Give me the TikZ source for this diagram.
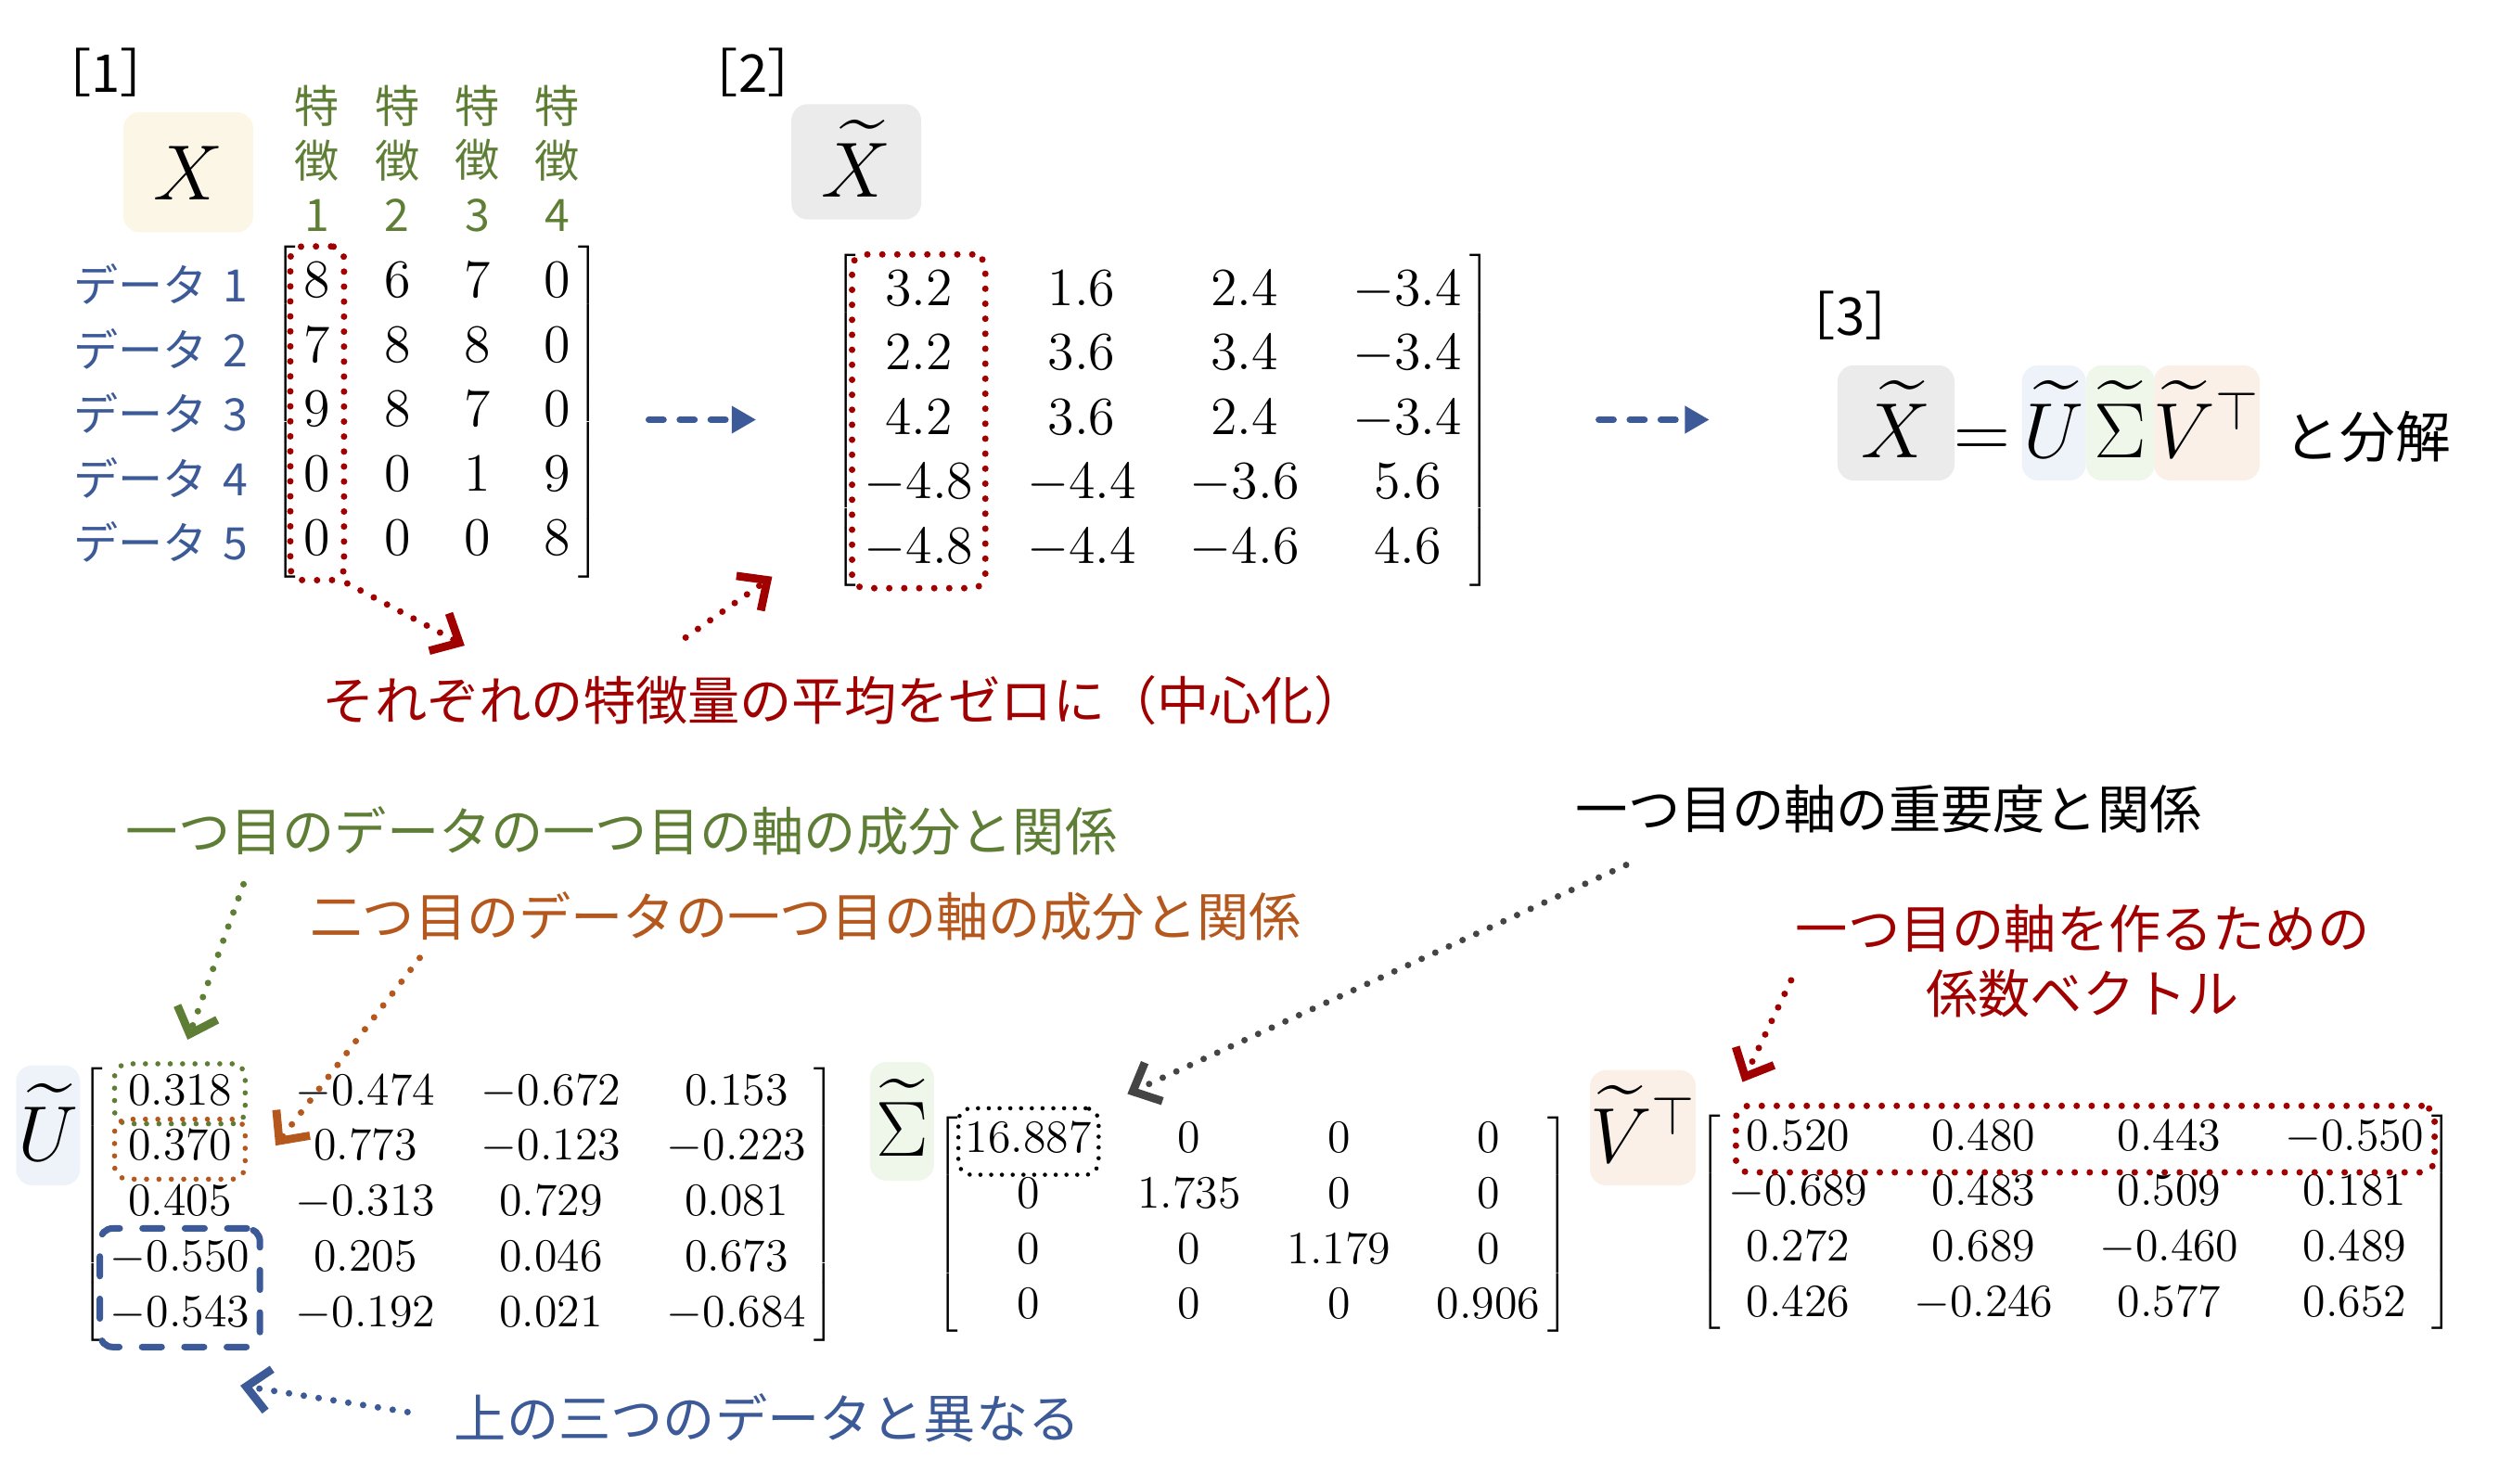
\RequirePackage{fix-cm}
\documentclass[tikz,border=0pt]{standalone}
\usepackage{amsmath}
\usepackage{fontspec}
\newfontfamily\jpfont{Noto Sans CJK JP}
\usetikzlibrary{arrows.meta,calc,positioning,matrix,fit}
\definecolor{svdRed}{HTML}{A00000}
\definecolor{svdGreen}{HTML}{5E7E36}
\definecolor{svdOrange}{HTML}{B5581E}
\definecolor{svdBlue}{HTML}{3D5A98}
\definecolor{svdGray}{HTML}{444444}
\definecolor{svdBoxX}{HTML}{FCF6E6}
\definecolor{svdBoxXt}{HTML}{EBEBEB}
\definecolor{svdBoxU}{HTML}{EEF3FA}
\definecolor{svdBoxS}{HTML}{EFF6EA}
\definecolor{svdBoxV}{HTML}{FAF0E8}
\newcommand{\upx}{0.4914pt}

\begin{document}
\begin{tikzpicture}[x=0.01727cm, y=-0.01727cm,
    note/.style={font=\jpfont\fontsize{16pt}{19.7pt}\selectfont},
    tag/.style={font=\jpfont\fontsize{16pt}{19pt}\selectfont},
    feat/.style={align=center, text=svdGreen, font=\jpfont\fontsize{13.7pt}{16.7pt}\selectfont},
    rowlab/.style={text=svdBlue, font=\jpfont\fontsize{13.7pt}{16pt}\selectfont},
    symbox/.style={rounded corners=5pt, inner sep=0pt, font=\fontsize{24pt}{28pt}\selectfont, text height=23.6pt, text depth=2pt},
    bigmat/.style={matrix of math nodes, anchor=center, inner sep=1pt, left delimiter={[}, right delimiter={]},
      column sep=16.5pt, row sep=0pt,
      nodes={inner sep=0pt, text height=13.9pt, text depth=5.9pt, font=\fontsize{16.5pt}{19.8pt}\selectfont}},
    smallmat/.style={bigmat, column sep=14.2pt,
      nodes={text height=11.9pt, text depth=5.1pt, font=\fontsize{14.2pt}{17pt}\selectfont}},
    dotbox/.style={draw, rounded corners=4pt, line width=2pt, dash pattern=on 0pt off 4.6pt, line cap=round, inner xsep=4pt, inner ysep=1.5pt},
    dashbox/.style={draw, rounded corners=4pt, line width=2pt, dash pattern=on 6pt off 7pt, line cap=round, inner xsep=3pt, inner ysep=1pt},
    dotarrow/.style={line width=2pt, dash pattern=on 0pt off 4.6pt, line cap=round, -{Straight Barb[length=7pt,width=13pt,line width=2.5pt]}},
    dasharrow/.style={svdBlue, line width=2pt, dash pattern=on 4.5pt off 5pt, line cap=round, -{Triangle[length=7.5pt,width=8pt]}}]
  \useasboundingbox (0,0) rectangle (1568,926);

  % step 1: raw data
  \node[tag] (t1) at (66,45) {［1］};
  \node[symbox, fill=svdBoxX, minimum width=81*\upx, minimum height=75*\upx, text height=18.7pt] (xsym) at (117.5,107.5) {$X$};
  \matrix[bigmat] (X) at (273,258) {
    8 & 6 & 7 & 0 \\
    7 & 8 & 8 & 0 \\
    9 & 8 & 7 & 0 \\
    0 & 0 & 1 & 9 \\
    0 & 0 & 0 & 8 \\
  };
  \coordinate (fhead) at (0,99);
  \coordinate (labx) at (162,0);
  \foreach \i in {1,...,4}
    \node[feat] (f\i) at (X-1-\i |- fhead) {特\\徴\\\i};
  \foreach \i in {1,...,5}
    \node[rowlab, anchor=east] (d\i) at (labx |- X-\i-1) {データ\hspace{.35em}\i};
  \node[dotbox, svdRed, fit=(X-1-1)(X-5-1)] (xcol) {};

  % step 2: centred data
  \node[tag] (t2) at (470,45) {［2］};
  \node[symbox, fill=svdBoxXt, minimum width=81*\upx, minimum height=72*\upx] (xtsym) at (534.5,101) {$\widetilde{X}$};
  \matrix[bigmat] (Xt) at (726,263) {
    3.2 & 1.6 & 2.4 & -3.4 \\
    2.2 & 3.6 & 3.4 & -3.4 \\
    4.2 & 3.6 & 2.4 & -3.4 \\
    -4.8 & -4.4 & -3.6 & 5.6 \\
    -4.8 & -4.4 & -4.6 & 4.6 \\
  };
  \node[dotbox, svdRed, fit=(Xt-1-1)(Xt-5-1), inner xsep=3.5pt] (xtcol) {};
  \node[note, text=svdRed] (ctrnote) at (527,437) {それぞれの特徴量の平均をゼロに（中心化）};
  \coordinate (ctrin) at (290,403);
  \coordinate (ctrout) at (428,398);
  \coordinate (ctrtip) at (482,360);
  \draw[dotarrow, svdRed] (xcol.south east) -- (ctrin);
  \draw[dotarrow, svdRed] (ctrout) -- (ctrtip);
  \coordinate (s1a) at (405,262);
  \coordinate (s1b) at (472,262);
  \coordinate (s2a) at (998,262);
  \coordinate (s2b) at (1067,262);
  \draw[dasharrow] (s1a) -- (s1b);
  \draw[dasharrow] (s2a) -- (s2b);

  % step 3: decomposition
  \node[tag] (t3) at (1155,197) {［3］};
  \node[symbox, fill=svdBoxXt, minimum width=73*\upx, minimum height=72*\upx] (eqx) at (1183.5,264) {$\widetilde{X}$};
  \node[symbox] (eqeq) at (1237,264) {$=$};
  \node[symbox, fill=svdBoxU, minimum width=40*\upx, minimum height=72*\upx] (equ) at (1282,264) {$\widetilde{U}$};
  \node[symbox, fill=svdBoxS, minimum width=43*\upx, minimum height=72*\upx] (eqs) at (1323.5,264) {$\widetilde{\Sigma}$};
  \node[symbox, fill=svdBoxV, minimum width=65*\upx, minimum height=72*\upx] (eqv) at (1377.5,264) {$\widetilde{V}^{\top}$};
  \node[symbox, font=\jpfont\fontsize{17pt}{20pt}\selectfont] (eqtxt) at (1478,264) {と分解};

  % factor matrices
  \node[symbox, fill=svdBoxU, minimum width=40*\upx, minimum height=75*\upx] (ulab) at (30,702.5) {$\widetilde{U}$};
  \matrix[smallmat] (U) at (286,752) {
    0.318 & -0.474 & -0.672 & 0.153 \\
    0.370 & 0.773 & -0.123 & -0.223 \\
    0.405 & -0.313 & 0.729 & 0.081 \\
    -0.550 & 0.205 & 0.046 & 0.673 \\
    -0.543 & -0.192 & 0.021 & -0.684 \\
  };
  \node[symbox, fill=svdBoxS, minimum width=40*\upx, minimum height=74*\upx] (slab) at (563,700) {$\widetilde{\Sigma}$};
  \matrix[smallmat] (S) at (782,764.5) {
    16.887 & 0 & 0 & 0 \\
    0 & 1.735 & 0 & 0 \\
    0 & 0 & 1.179 & 0 \\
    0 & 0 & 0 & 0.906 \\
  };
  \node[symbox, fill=svdBoxV, minimum width=65*\upx, minimum height=72*\upx] (vlab) at (1025.5,704) {$\widetilde{V}^{\top}$};
  \matrix[smallmat] (V) at (1296,763) {
    0.520 & 0.480 & 0.443 & -0.550 \\
    -0.689 & 0.483 & 0.509 & 0.181 \\
    0.272 & 0.689 & -0.460 & 0.489 \\
    0.426 & -0.246 & 0.577 & 0.652 \\
  };
  \node[dotbox, svdGreen, fit=(U-1-1), line width=1.6pt, dash pattern=on 0pt off 3.8pt, inner ysep=0.5pt] (ub1) {};
  \node[dotbox, svdOrange, fit=(U-2-1), line width=1.6pt, dash pattern=on 0pt off 3.8pt, inner ysep=0.5pt] (ub2) {};
  \node[dashbox, svdBlue, fit=(U-4-1)(U-5-1)] (ub3) {};
  \node[dotbox, black, fit=(S-1-1), line width=1.3pt, dash pattern=on 0pt off 3.3pt, inner xsep=2pt] (sb1) {};
  \node[dotbox, svdRed, fit=(V-1-1)(V-1-4), inner xsep=3pt] (vb1) {};

  % notes
  \node[note, text=svdGreen] (gnote) at (388,519) {一つ目のデータの一つ目の軸の成分と関係};
  \node[note, text=svdOrange] (onote) at (503,572) {二つ目のデータの一つ目の軸の成分と関係};
  \node[note] (snote) at (1179,505) {一つ目の軸の重要度と関係};
  \node[note, text=svdRed, align=center] (vnote) at (1300,600) {一つ目の軸を作るための\\係数ベクトル};
  \node[note, text=svdBlue] (bnote) at (479,885) {上の三つのデータと異なる};
  \coordinate (gstart) at (152,552);
  \coordinate (ostart) at (262,598);
  \coordinate (sstart) at (1015,540);
  \coordinate (vstart) at (1118,612);
  \coordinate (btip) at (150,865);
  \draw[dotarrow, svdGreen, shorten >=7pt] (gstart) -- (ub1.north);
  \draw[dotarrow, svdOrange, shorten >=14pt] (ostart) -- (ub2.south east);
  \draw[dotarrow, svdGray, shorten >=9pt] (sstart) -- (sb1.north east);
  \draw[dotarrow, svdRed, shorten >=7pt] (vstart) -- (vb1.north west);
  \draw[dotarrow, svdBlue, shorten <=11pt] (bnote.west) -- (btip);
\end{tikzpicture}
\end{document}
